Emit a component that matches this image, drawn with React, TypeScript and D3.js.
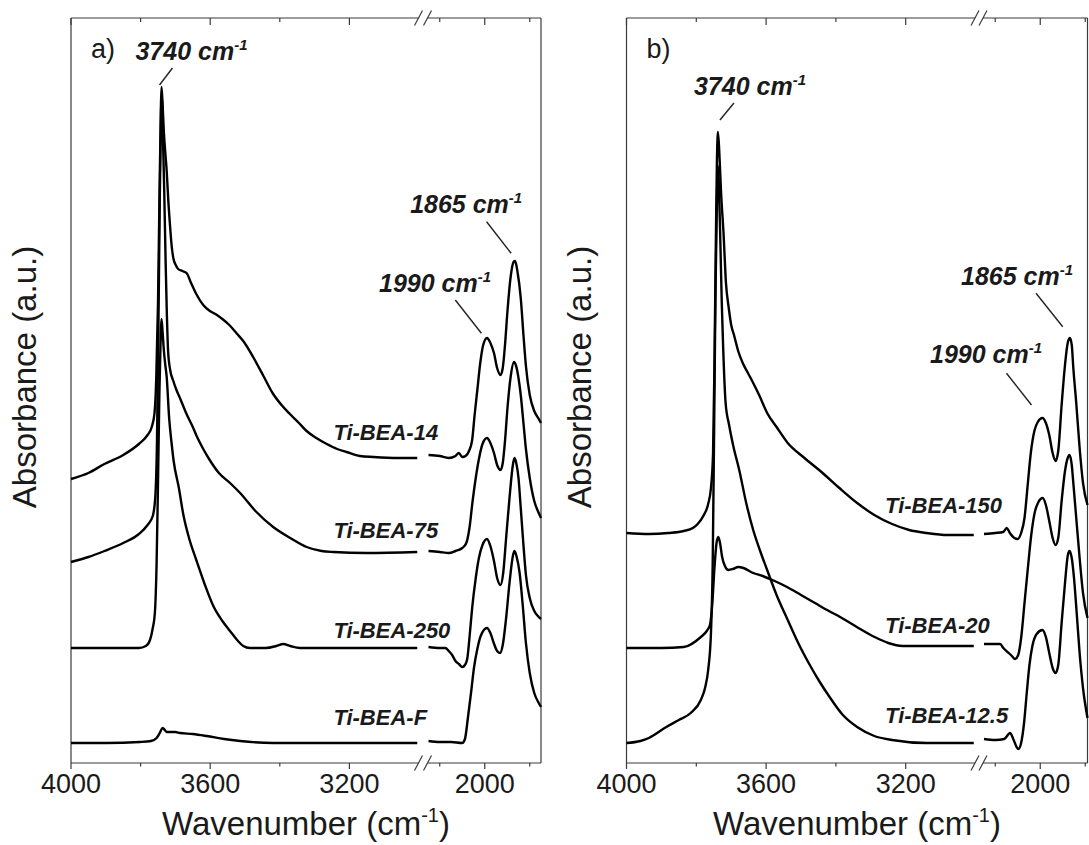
import React from 'react';
import * as d3 from 'd3';

type Pt = [number, number];

// ---------- Panel a data (wavenumber, absorbance a.u.) ----------
const A14_HIGH: Pt[] = [[4000,2.84],[3950,2.9],[3904,2.99],[3850,3.08],[3805,3.19],[3780,3.28],[3768,3.36],[3760,3.5],[3755,3.85],[3750,4.6],[3746,5.6],[3742,6.5],[3740,6.76],[3737,6.6],[3733,6.3],[3729,6.1],[3725,5.92],[3720,5.6],[3716,5.4],[3711,5.18],[3706,5.05],[3699,4.98],[3692,4.94],[3680,4.92],[3668,4.9],[3655,4.8],[3640,4.69],[3620,4.58],[3601,4.52],[3585,4.49],[3565,4.44],[3545,4.38],[3525,4.3],[3505,4.22],[3475,4.05],[3447,3.87],[3419,3.69],[3395,3.58],[3371,3.49],[3345,3.4],[3323,3.32],[3295,3.25],[3265,3.19],[3235,3.14],[3208,3.11],[3170,3.07],[3131,3.06],[3060,3.05],[3005,3.05]];
const A14_LOW: Pt[] = [[2250,3.08],[2200,3.07],[2160,3.05],[2130,3.07],[2115,3.1],[2100,3.06],[2085,3.07],[2070,3.12],[2056,3.23],[2045,3.48],[2033,3.73],[2020,4.0],[2008,4.17],[1990,4.25],[1975,4.2],[1959,4.1],[1945,3.95],[1930,3.88],[1920,3.95],[1910,4.18],[1899,4.52],[1885,4.86],[1872,5.01],[1865,5.02],[1855,4.92],[1840,4.65],[1828,4.28],[1817,3.97],[1800,3.68],[1780,3.52],[1760,3.44],[1750,3.4]];

const A75_HIGH: Pt[] = [[4000,2.01],[3950,2.06],[3904,2.12],[3850,2.2],[3805,2.29],[3780,2.38],[3765,2.47],[3758,2.65],[3753,3.2],[3749,4.3],[3745,5.6],[3741,6.55],[3739,6.66],[3736,6.3],[3732,5.7],[3728,5.0],[3725,4.55],[3721,4.12],[3715,3.93],[3706,3.82],[3697,3.73],[3687,3.65],[3668,3.49],[3650,3.36],[3639,3.27],[3620,3.14],[3605,3.05],[3575,2.9],[3543,2.8],[3514,2.7],[3470,2.52],[3419,2.36],[3370,2.25],[3323,2.16],[3280,2.12],[3246,2.11],[3150,2.1],[3005,2.11]];
const A75_LOW: Pt[] = [[2250,2.12],[2200,2.11],[2160,2.1],[2130,2.12],[2100,2.15],[2082,2.2],[2068,2.35],[2055,2.6],[2040,2.85],[2025,3.05],[2010,3.19],[1990,3.25],[1975,3.2],[1959,3.1],[1945,2.98],[1930,2.93],[1920,3.0],[1910,3.22],[1899,3.55],[1885,3.86],[1870,4.01],[1862,3.98],[1850,3.85],[1840,3.68],[1828,3.4],[1817,3.14],[1800,2.85],[1780,2.62],[1760,2.5],[1750,2.45]];

const A250_HIGH: Pt[] = [[4000,1.15],[3900,1.15],[3805,1.15],[3785,1.17],[3773,1.23],[3765,1.35],[3759,1.5],[3754,2.0],[3750,2.8],[3746,3.7],[3742,4.3],[3740,4.44],[3737,4.32],[3733,4.12],[3729,3.98],[3725,3.86],[3718,3.45],[3711,3.2],[3705,3.02],[3690,2.75],[3677,2.48],[3660,2.24],[3640,2.03],[3615,1.78],[3591,1.57],[3565,1.42],[3543,1.32],[3520,1.22],[3505,1.17],[3486,1.15],[3440,1.15],[3410,1.17],[3390,1.19],[3370,1.17],[3342,1.15],[3200,1.15],[3005,1.15]];
const A250_LOW: Pt[] = [[2250,1.16],[2200,1.15],[2175,1.15],[2160,1.12],[2145,1.08],[2130,1.02],[2115,0.99],[2100,0.96],[2088,0.98],[2078,1.04],[2066,1.3],[2056,1.55],[2040,1.85],[2026,2.05],[2010,2.18],[1990,2.24],[1975,2.17],[1959,2.02],[1945,1.85],[1930,1.78],[1918,1.9],[1905,2.25],[1890,2.65],[1875,2.98],[1868,3.05],[1860,3.0],[1850,2.85],[1840,2.55],[1828,2.18],[1817,1.88],[1800,1.65],[1780,1.52],[1760,1.46],[1750,1.44]];

const AF_HIGH: Pt[] = [[4000,0.2],[3900,0.2],[3802,0.21],[3770,0.22],[3754,0.25],[3745,0.3],[3737,0.35],[3733,0.34],[3725,0.31],[3715,0.31],[3700,0.31],[3687,0.3],[3650,0.29],[3610,0.27],[3560,0.24],[3514,0.22],[3419,0.2],[3300,0.2],[3005,0.2]];
const AF_LOW: Pt[] = [[2250,0.22],[2200,0.21],[2150,0.21],[2100,0.2],[2088,0.24],[2075,0.45],[2060,0.72],[2048,0.95],[2033,1.14],[2018,1.27],[1990,1.35],[1975,1.3],[1960,1.2],[1945,1.12],[1932,1.1],[1920,1.18],[1905,1.45],[1890,1.8],[1875,2.07],[1868,2.12],[1858,2.06],[1845,1.9],[1832,1.6],[1817,1.2],[1800,0.9],[1780,0.7],[1760,0.6],[1750,0.56]];

// ---------- Panel b data ----------
const B150_HIGH: Pt[] = [[4000,2.3],[3936,2.29],[3880,2.3],[3836,2.32],[3810,2.35],[3796,2.39],[3780,2.47],[3766,2.59],[3758,2.75],[3752,3.1],[3748,4.0],[3744,5.2],[3741,6.0],[3738,6.31],[3734,6.1],[3729,5.7],[3722,5.3],[3715,4.8],[3707,4.55],[3700,4.38],[3692,4.28],[3680,4.12],[3667,4.0],[3652,3.9],[3637,3.8],[3620,3.68],[3597,3.5],[3570,3.36],[3538,3.2],[3490,3.05],[3438,2.9],[3390,2.75],[3339,2.6],[3290,2.48],[3239,2.39],[3190,2.33],[3140,2.3],[3080,2.28],[3005,2.28]];
const B150_LOW: Pt[] = [[2250,2.29],[2200,2.3],[2165,2.31],[2149,2.35],[2135,2.3],[2115,2.25],[2100,2.24],[2085,2.3],[2070,2.45],[2055,2.8],[2042,3.1],[2025,3.33],[2011,3.41],[1990,3.45],[1975,3.4],[1960,3.28],[1945,3.1],[1932,3.02],[1920,3.12],[1905,3.58],[1890,3.98],[1878,4.2],[1868,4.25],[1860,4.18],[1853,3.95],[1840,3.6],[1825,3.15],[1810,2.8],[1790,2.58]];

const B20_HIGH: Pt[] = [[4000,1.15],[3900,1.15],[3836,1.16],[3787,1.26],[3770,1.32],[3761,1.38],[3754,1.6],[3748,1.95],[3742,2.2],[3737,2.26],[3732,2.2],[3726,2.06],[3718,1.97],[3708,1.93],[3695,1.94],[3680,1.96],[3665,1.95],[3637,1.9],[3610,1.87],[3582,1.83],[3540,1.76],[3500,1.68],[3460,1.6],[3420,1.52],[3388,1.46],[3340,1.36],[3289,1.26],[3250,1.2],[3209,1.17],[3100,1.17],[3005,1.17]];
const B20_LOW: Pt[] = [[2250,1.19],[2200,1.19],[2178,1.19],[2164,1.15],[2140,1.1],[2126,1.07],[2112,1.04],[2098,1.08],[2085,1.25],[2070,1.6],[2055,1.95],[2040,2.28],[2025,2.5],[2008,2.61],[1989,2.65],[1975,2.58],[1960,2.42],[1945,2.25],[1932,2.18],[1920,2.25],[1905,2.62],[1890,2.92],[1878,3.05],[1870,3.08],[1860,2.98],[1853,2.8],[1840,2.45],[1825,2.05],[1810,1.7],[1790,1.45]];

const B125_HIGH: Pt[] = [[4000,0.2],[3960,0.22],[3936,0.25],[3886,0.36],[3850,0.43],[3816,0.5],[3787,0.63],[3775,0.75],[3766,0.93],[3758,1.3],[3753,2.0],[3749,3.3],[3745,4.7],[3741,5.6],[3738,5.97],[3735,5.75],[3731,5.2],[3727,4.6],[3723,4.15],[3716,3.6],[3706,3.38],[3694,3.17],[3677,2.93],[3657,2.6],[3637,2.33],[3617,2.12],[3597,1.93],[3570,1.68],[3538,1.43],[3508,1.2],[3478,1.0],[3448,0.82],[3418,0.66],[3380,0.48],[3339,0.36],[3290,0.27],[3239,0.23],[3140,0.2],[3005,0.2]];
const B125_LOW: Pt[] = [[2250,0.24],[2200,0.23],[2160,0.24],[2134,0.3],[2120,0.24],[2105,0.16],[2097,0.14],[2085,0.2],[2072,0.4],[2060,0.7],[2048,0.98],[2035,1.17],[2016,1.29],[1990,1.33],[1975,1.26],[1960,1.1],[1945,0.95],[1932,0.9],[1920,0.98],[1905,1.4],[1890,1.8],[1878,2.07],[1870,2.12],[1860,2.05],[1850,1.85],[1838,1.5],[1825,1.1],[1810,0.75],[1790,0.45]];

// ---------- Axis ticks ----------
const HIGH_MAJOR = [4000, 3600, 3200];
const HIGH_MINOR = [3800, 3400];
const LOW_MAJOR = [2000];
const LOW_MINOR = [2200, 1800];

// ---------- Labels ----------
const A_NAMES = ['Ti-BEA-14', 'Ti-BEA-75', 'Ti-BEA-250', 'Ti-BEA-F'];
const A_LABEL_POS: Pt[] = [[3246, 3.23], [3246, 2.25], [3246, 1.25], [3246, 0.38]];
const B_NAMES = ['Ti-BEA-150', 'Ti-BEA-20', 'Ti-BEA-12.5'];
const B_LABEL_POS: Pt[] = [[3259, 2.5], [3259, 1.3], [3259, 0.4]];

const PEAK_TEXT = ['3740', '1990', '1865'];
const A_PEAKS: Pt[] = [[3740, 6.76], [1990, 4.25], [1865, 5.02]];
const B_PEAKS: Pt[] = [[3738, 6.31], [1990, 3.45], [1865, 4.25]];

const FONT = "'Liberation Sans', Arial, Helvetica, sans-serif";
const Y_TOP = 18;
const Y_BOT = 763;

type Geo = { x0: number; xbL: number; xbR: number; x1: number; endWn: number; yTitleX: number };
type Annot = { tdx: number; tdy: number; l1: Pt; l2: Pt };

const GEO_A: Geo = { x0: 71, xbL: 419, xbR: 428.5, x1: 541, endWn: 1750, yTitleX: 36 };
const GEO_B: Geo = { x0: 626.5, xbL: 975.5, xbR: 984, x1: 1087.5, endWn: 1790, yTitleX: 591 };

const A_ANNOT: Annot[] = [
  { tdx: -26, tdy: -27, l1: [11, -19], l2: [-2, -2] },
  { tdx: -108, tdy: -46, l1: [-31.7, -38], l2: [-5.6, -4.7] },
  { tdx: -105, tdy: -48, l1: [-28.5, -39.3], l2: [-4, -7.7] },
];
const B_ANNOT: Annot[] = [
  { tdx: -24, tdy: -37, l1: [16, -29], l2: [2, -12] },
  { tdx: -112.5, tdy: -55, l1: [-36, -44.7], l2: [-11, -13] },
  { tdx: -109.6, tdy: -53, l1: [-34.6, -44.7], l2: [-7.9, -11.3] },
];

function Panel(props: {
  geo: Geo;
  high: Pt[][];
  low: Pt[][];
  names: string[];
  labelPos: Pt[];
  peaks: Pt[];
  annots: Annot[];
  letter: string;
}) {
  const { geo, high, low, names, labelPos, peaks, annots, letter } = props;
  const xH = d3.scaleLinear().domain([4000, 3000]).range([geo.x0, geo.xbL]);
  const xL = d3.scaleLinear().domain([2250, geo.endWn]).range([geo.xbR, geo.x1]);
  const y = d3.scaleLinear().domain([0, 7.45]).range([Y_BOT, Y_TOP]);
  const xAny = (w: number) => (w >= 2600 ? xH(w) : xL(w));

  const lineH = d3.line<Pt>().x(d => xH(d[0])).y(d => y(d[1])).curve(d3.curveMonotoneX);
  const lineL = d3.line<Pt>().x(d => xL(d[0])).y(d => y(d[1])).curve(d3.curveMonotoneX);

  const s1 = geo.xbL - 0.5;
  const s2 = geo.xbR - 1;
  const frame = '#3a3a3a';
  const cx = (geo.x0 + geo.x1) / 2;

  const ticks: { x: number; major: boolean }[] = [
    ...HIGH_MAJOR.map(v => ({ x: xH(v), major: true })),
    ...HIGH_MINOR.map(v => ({ x: xH(v), major: false })),
    ...LOW_MAJOR.map(v => ({ x: xL(v), major: true })),
    ...LOW_MINOR.map(v => ({ x: xL(v), major: false })),
  ];

  return (
    <g>
      {/* frame */}
      <line x1={geo.x0} y1={Y_TOP} x2={geo.x0} y2={Y_BOT} stroke={frame} strokeWidth={1.2} />
      <line x1={geo.x1} y1={Y_TOP} x2={geo.x1} y2={Y_BOT} stroke={frame} strokeWidth={1.2} />
      {[Y_TOP, Y_BOT].map(yy => (
        <g key={yy}>
          <line x1={geo.x0} y1={yy} x2={s1} y2={yy} stroke={frame} strokeWidth={1.2} />
          <line x1={s2} y1={yy} x2={geo.x1} y2={yy} stroke={frame} strokeWidth={1.2} />
          {[s1, s2].map(sx => (
            <line key={sx} x1={sx - 4} y1={yy + 7.5} x2={sx + 4} y2={yy - 7.5} stroke={frame} strokeWidth={1.2} />
          ))}
        </g>
      ))}
      {ticks.map((t, i) => (
        <g key={i}>
          <line x1={t.x} y1={Y_BOT} x2={t.x} y2={Y_BOT + (t.major ? 6 : 3.5)} stroke={frame} strokeWidth={1.2} />
          <line x1={t.x} y1={Y_TOP} x2={t.x} y2={Y_TOP + (t.major ? 7 : 4)} stroke={frame} strokeWidth={1.2} />
        </g>
      ))}
      {/* tick labels */}
      {HIGH_MAJOR.map(v => (
        <text key={v} x={xH(v)} y={793} textAnchor="middle" fontSize={27} fontFamily={FONT} fill="#1a1a1a">{v}</text>
      ))}
      {LOW_MAJOR.map(v => (
        <text key={v} x={xL(v)} y={793} textAnchor="middle" fontSize={27} fontFamily={FONT} fill="#1a1a1a">{v}</text>
      ))}
      {/* axis titles */}
      <text x={cx} y={835} textAnchor="middle" fontSize={33} fontFamily={FONT} fill="#1a1a1a">
        Wavenumber (cm<tspan fontSize={20} dy={-13}>-1</tspan><tspan dy={13}>)</tspan>
      </text>
      <text transform={`translate(${geo.yTitleX},377) rotate(-90)`} textAnchor="middle" fontSize={33} fontFamily={FONT} fill="#1a1a1a">
        Absorbance (a.u.)
      </text>
      {/* spectra */}
      {high.map((s, i) => (
        <path key={'h' + i} d={lineH(s) || ''} fill="none" stroke="#000" strokeWidth={2.4} strokeLinejoin="round" />
      ))}
      {low.map((s, i) => (
        <path key={'l' + i} d={lineL(s) || ''} fill="none" stroke="#000" strokeWidth={2.4} strokeLinejoin="round" />
      ))}
      {/* sample labels */}
      {names.map((n, i) => (
        <text key={n} x={xH(labelPos[i][0])} y={y(labelPos[i][1])} fontSize={22} fontWeight="bold" fontStyle="italic" fontFamily={FONT} fill="#1a1a1a">{n}</text>
      ))}
      {/* peak annotations */}
      {peaks.map((p, i) => {
        const px = xAny(p[0]);
        const py = y(p[1]);
        const a = annots[i];
        return (
          <g key={i}>
            <text x={px + a.tdx} y={py + a.tdy} fontSize={25} fontWeight="bold" fontStyle="italic" fontFamily={FONT} fill="#1a1a1a">
              {PEAK_TEXT[i]} cm<tspan fontSize={15} dy={-10}>-1</tspan>
            </text>
            <line x1={px + a.l1[0]} y1={py + a.l1[1]} x2={px + a.l2[0]} y2={py + a.l2[1]} stroke="#222" strokeWidth={1.4} />
          </g>
        );
      })}
      <text x={geo.x0 + 20} y={58} fontSize={27} fontFamily={FONT} fill="#1a1a1a">{letter}</text>
    </g>
  );
}

export default function App() {
  return (
    <svg width={1089} height={845} style={{ position: 'absolute', left: 0, top: 0, background: '#fff' }}>
      <rect x={0} y={0} width={1089} height={845} fill="#fff" />
      <Panel
        geo={GEO_A}
        high={[A14_HIGH, A75_HIGH, A250_HIGH, AF_HIGH]}
        low={[A14_LOW, A75_LOW, A250_LOW, AF_LOW]}
        names={A_NAMES}
        labelPos={A_LABEL_POS}
        peaks={A_PEAKS}
        annots={A_ANNOT}
        letter="a)"
      />
      <Panel
        geo={GEO_B}
        high={[B150_HIGH, B20_HIGH, B125_HIGH]}
        low={[B150_LOW, B20_LOW, B125_LOW]}
        names={B_NAMES}
        labelPos={B_LABEL_POS}
        peaks={B_PEAKS}
        annots={B_ANNOT}
        letter="b)"
      />
    </svg>
  );
}
